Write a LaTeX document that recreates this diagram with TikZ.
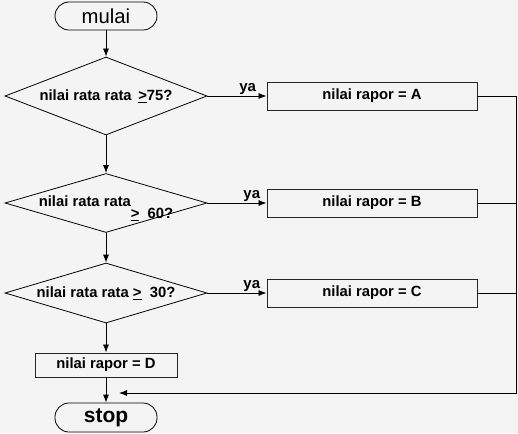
\documentclass[tikz,border=0pt]{standalone}
\usepackage{fontspec}
\setmainfont{Liberation Sans}
\usetikzlibrary{shapes.geometric, arrows.meta}
\definecolor{latar}{HTML}{F4F4F4}
\tikzstyle{terminal} = [rectangle, rounded corners=14pt, minimum width=102pt, minimum height=28pt, inner sep=0pt, draw=black, line width=0.8pt]
\tikzstyle{decision} = [diamond, aspect=3.5, minimum width=202pt, inner sep=0pt, draw=black, line width=0.8pt, font=\fontsize{14.8}{12}\selectfont\bfseries]
\tikzstyle{block} = [rectangle, minimum width=210pt, minimum height=28pt, inner sep=0pt, draw=black!85, line width=0.9pt, font=\fontsize{14.8}{12}\selectfont\bfseries]
\tikzstyle{arrow} = [line width=0.8pt,->,>={Latex[length=8pt,width=6pt]}]
\tikzstyle{line} = [line width=0.8pt]
\tikzstyle{ya} = [font=\fontsize{15}{15}\selectfont\bfseries, inner sep=1pt]

\begin{document}
\begin{tikzpicture}
            \useasboundingbox [fill=latar] (-106pt,16pt) rectangle (412pt,-417pt);

            \node (mulai) [terminal, font=\fontsize{20.3}{20}\selectfont] {mulai};
            \node (cek1) [decision, below of=mulai, node distance=80pt, minimum height=78pt] {nilai rata rata \,\underline{>}75?};
            \node (cek2) [decision, below of=cek1, node distance=107pt, minimum height=59pt] {};
            \node (teks2) [below of=cek2, node distance=5pt, align=left, inner sep=0pt, font=\fontsize{14.8}{12}\selectfont\bfseries] {nilai rata rata\\\hspace*{92pt}\underline{>}~~60?};
            \node (cek3) [decision, below of=cek2, node distance=90pt, minimum height=60pt] {nilai rata rata \underline{>}~~30?};
            \node (nilaiD) [block, below of=cek3, node distance=72pt, minimum width=142pt, minimum height=24pt] {nilai rapor = D};
            \node (stop) [terminal, below of=nilaiD, node distance=52.5pt, minimum height=29pt, font=\fontsize{21}{21}\selectfont\bfseries] {stop};

            \node (nilaiA) [block, right of=cek1, node distance=266pt] {nilai rapor = A};
            \node (nilaiB) [block, right of=cek2, node distance=266pt] {nilai rapor = B};
            \node (nilaiC) [block, right of=cek3, node distance=266pt] {nilai rapor = C};

            \coordinate (pojok) at (410pt,-377pt);
            \coordinate (masuk) at (13pt,-377pt);

            \draw [arrow] (mulai) -- (cek1);
            \draw [arrow] (cek1) -- (cek2);
            \draw [arrow] (cek2) -- (cek3);
            \draw [arrow] (cek3) -- (nilaiD);
            \draw [arrow] (nilaiD) -- (stop);

            \draw [arrow] (cek1.east) -- node [ya, above, pos=0.68] {ya} (nilaiA.west);
            \draw [arrow] (cek2.east) -- node [ya, above, pos=0.75] {ya} (nilaiB.west);
            \draw [arrow] (cek3.east) -- node [ya, above, pos=0.75] {ya} (nilaiC.west);

            \draw [arrow] (nilaiA.east) -| (pojok) -- (masuk);
            \draw [line] (nilaiB.east) -- (nilaiB.east -| pojok);
            \draw [line] (nilaiC.east) -- (nilaiC.east -| pojok);
\end{tikzpicture}
\end{document}
